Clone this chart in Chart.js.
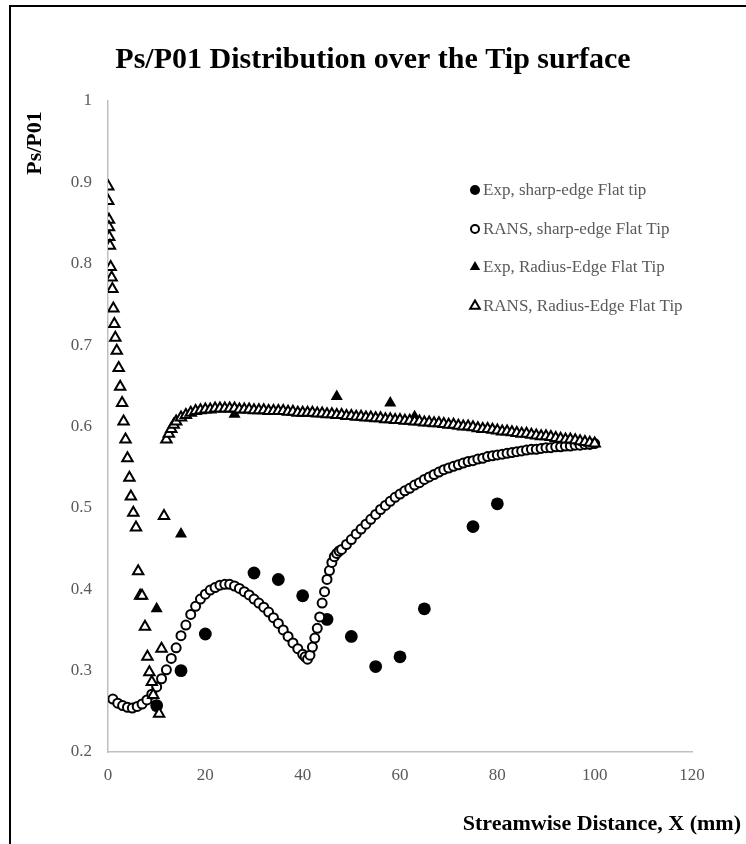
<!DOCTYPE html>
<html>
<head>
<meta charset="utf-8">
<script src="https://cdn.jsdelivr.net/npm/chart.js@4.4.1/dist/chart.umd.min.js"></script>
<style>
  html, body { margin: 0; padding: 0; background: #ffffff; }
  canvas { display: block; }
</style>
</head>
<body>
<canvas id="tipChart" width="746" height="844"></canvas>
<script>
// Axis ticks
const xTicks = [0, 20, 40, 60, 80, 100, 120];
const yTicks = [0.2, 0.3, 0.4, 0.5, 0.6, 0.7, 0.8, 0.9, 1];

// Series names
const seriesNames = [
  'Exp, sharp-edge Flat tip',
  'RANS, sharp-edge Flat Tip',
  'Exp, Radius-Edge Flat Tip',
  'RANS, Radius-Edge Flat Tip'
];

// Experiment, sharp-edge flat tip
const expSharpX = [10, 15, 20, 30, 35, 40, 45, 50, 55, 60, 65, 75, 80];
const expSharpY = [0.257, 0.300, 0.345, 0.420, 0.412, 0.392, 0.363, 0.342, 0.305, 0.317, 0.376, 0.477, 0.505];

// RANS, sharp-edge flat tip
const ransSharpX = [
  1, 2, 3, 4, 5, 6, 7, 8, 9, 10, 11, 12, 13, 14, 15, 16, 17, 18, 19, 20,
  21, 22, 23, 24, 25, 26, 27, 28, 29, 30, 31, 32, 33, 34, 35, 36, 37, 38, 39, 40,
  40.5, 41, 41.5, 42, 42.5, 43, 43.5, 44, 44.5, 45, 45.5, 46, 46.5, 47, 47.5,
  48, 49, 50, 51, 52, 53, 54, 55, 56, 57, 58, 59, 60, 61, 62, 63, 64, 65, 66, 67,
  68, 69, 70, 71, 72, 73, 74, 75, 76, 77, 78, 79, 80, 81, 82, 83, 84, 85, 86, 87,
  88, 89, 90, 91, 92, 93, 94, 95, 96, 97, 98, 99, 100
];
const ransSharpY = [
  0.265, 0.260, 0.257, 0.255, 0.254, 0.256, 0.259, 0.264, 0.271, 0.280,
  0.290, 0.301, 0.315, 0.328, 0.343, 0.356, 0.369, 0.379, 0.388, 0.394,
  0.399, 0.402, 0.405, 0.406, 0.406, 0.404, 0.401, 0.397, 0.393, 0.388,
  0.383, 0.378, 0.372, 0.365, 0.358, 0.350, 0.342, 0.334, 0.327, 0.320,
  0.317, 0.314, 0.319, 0.329, 0.340, 0.352, 0.366, 0.383, 0.397, 0.412,
  0.423, 0.433, 0.440, 0.444, 0.447,
  0.449, 0.455, 0.461, 0.468, 0.474, 0.480, 0.486, 0.492, 0.498, 0.503,
  0.508, 0.513, 0.517, 0.521, 0.524, 0.528, 0.531, 0.535, 0.538, 0.541,
  0.544, 0.547, 0.549, 0.551, 0.553, 0.555, 0.557, 0.558, 0.560, 0.561,
  0.563, 0.564, 0.565, 0.566, 0.567, 0.568, 0.569, 0.570, 0.571, 0.572,
  0.572, 0.573, 0.574, 0.574, 0.575, 0.575, 0.576, 0.576, 0.577, 0.577,
  0.578, 0.578, 0.579
];

// Experiment, radius-edge flat tip
const expRadiusX = [10, 15, 26, 47, 58, 63];
const expRadiusY = [0.376, 0.468, 0.615, 0.637, 0.629, 0.612];

// RANS, radius-edge flat tip
const ransRadiusX = [
  0.05, 0.05, 0.2, 0.2, 0.25, 0.4, 0.55, 0.75, 0.9, 1.1, 1.3, 1.5, 1.8, 2.2,
  2.5, 2.9, 3.2, 3.6, 4.0, 4.4, 4.7, 5.2, 5.75, 6.2, 6.6, 7.0, 7.6, 8.1, 8.5,
  9.0, 9.3, 10.5, 11.0, 11.5,
  12, 12.5, 13, 13.5, 14, 15, 16, 17, 18, 19, 20, 21, 22, 23, 24, 25, 26, 27,
  28, 29, 30, 31, 32, 33, 34, 35, 36, 37, 38, 39, 40, 41, 42, 43, 44, 45, 46,
  47, 48, 49, 50, 51, 52, 53, 54, 55, 56, 57, 58, 59, 60, 61, 62, 63, 64, 65,
  66, 67, 68, 69, 70, 71, 72, 73, 74, 75, 76, 77, 78, 79, 80, 81, 82, 83, 84,
  85, 86, 87, 88, 89, 90, 91, 92, 93, 94, 95, 96, 97, 98, 99, 100
];
const ransRadiusY = [
  0.895, 0.877, 0.854, 0.845, 0.833, 0.822, 0.796, 0.783, 0.769, 0.745,
  0.726, 0.709, 0.693, 0.672, 0.649, 0.629, 0.606, 0.584, 0.561, 0.537,
  0.514, 0.494, 0.476, 0.422, 0.392, 0.392, 0.354, 0.317, 0.298, 0.286,
  0.270, 0.247, 0.327, 0.490,
  0.584, 0.591, 0.597, 0.602, 0.606, 0.611, 0.614, 0.617, 0.619, 0.620,
  0.621, 0.621, 0.622, 0.622, 0.622, 0.622, 0.622, 0.621, 0.621, 0.621,
  0.620, 0.620, 0.620, 0.619, 0.619, 0.619, 0.619, 0.618, 0.618, 0.617,
  0.617, 0.617, 0.617, 0.616, 0.616, 0.615, 0.615, 0.614, 0.614, 0.613,
  0.613, 0.612, 0.612, 0.611, 0.611, 0.610, 0.610, 0.609, 0.609, 0.608,
  0.608, 0.607, 0.607, 0.606, 0.606, 0.605, 0.605, 0.604, 0.604, 0.603,
  0.602, 0.602, 0.601, 0.600, 0.600, 0.599, 0.598, 0.597, 0.597, 0.596,
  0.595, 0.594, 0.594, 0.593, 0.592, 0.591, 0.591, 0.590, 0.589, 0.588,
  0.588, 0.587, 0.586, 0.585, 0.584, 0.584, 0.583, 0.582, 0.581, 0.580,
  0.579
];

const toPoints = (xs, ys) => xs.map((x, i) => ({ x: x, y: ys[i] }));

const SERIF = '"Liberation Serif", "DejaVu Serif", serif';
const GREY_TEXT = '#595959';

// Legend marker look, one per series
const legendMarks = [
  { shape: 'circle', r: 5, fill: '#000000', line: 0 },
  { shape: 'circle', r: 4, fill: '#ffffff', line: 2 },
  { shape: 'triangle', r: 6, fill: '#000000', line: 0 },
  { shape: 'triangle', r: 5.6, fill: '#ffffff', line: 2 }
];

// Page furniture drawn straight onto the canvas: background, frame, titles, legend
const furniture = {
  id: 'furniture',
  beforeDraw(chart) {
    const ctx = chart.ctx;
    ctx.save();
    ctx.fillStyle = '#ffffff';
    ctx.fillRect(0, 0, chart.width, chart.height);
    ctx.restore();
  },
  afterDraw(chart) {
    const ctx = chart.ctx;
    ctx.save();

    // outer frame
    ctx.strokeStyle = '#000000';
    ctx.lineWidth = 2;
    ctx.beginPath();
    ctx.moveTo(10, chart.height);
    ctx.lineTo(10, 6);
    ctx.lineTo(chart.width, 6);
    ctx.stroke();

    // chart title
    ctx.fillStyle = '#000000';
    ctx.textAlign = 'center';
    ctx.textBaseline = 'middle';
    ctx.font = 'bold 30px ' + SERIF;
    ctx.fillText('Ps/P01 Distribution over the Tip surface', 373, 60);

    // x axis title
    ctx.font = 'bold 22px ' + SERIF;
    ctx.textAlign = 'right';
    ctx.fillText('Streamwise Distance, X (mm)', 741, 824);

    // y axis title
    ctx.save();
    ctx.translate(35, 143);
    ctx.rotate(-Math.PI / 2);
    ctx.textAlign = 'center';
    ctx.font = 'bold 22px ' + SERIF;
    ctx.fillText('Ps/P01', 0, 0);
    ctx.restore();

    // legend
    const rows = [190, 229, 267, 306];
    const mx = 475;
    ctx.font = '17px ' + SERIF;
    ctx.textAlign = 'left';
    ctx.textBaseline = 'middle';
    chart.data.datasets.forEach((ds, i) => {
      const y = rows[i];
      const m = legendMarks[i];
      ctx.fillStyle = m.fill;
      ctx.strokeStyle = '#000000';
      ctx.lineWidth = m.line;
      ctx.beginPath();
      if (m.shape === 'circle') {
        ctx.arc(mx, y, m.r, 0, Math.PI * 2);
      } else {
        ctx.moveTo(mx, y - m.r);
        ctx.lineTo(mx + m.r * 0.866, y + m.r * 0.5);
        ctx.lineTo(mx - m.r * 0.866, y + m.r * 0.5);
        ctx.closePath();
      }
      ctx.fill();
      if (m.line > 0) ctx.stroke();
      ctx.fillStyle = GREY_TEXT;
      ctx.fillText(ds.label, 483, y + 1);
    });

    ctx.restore();
  }
};

new Chart(document.getElementById('tipChart'), {
  type: 'scatter',
  data: {
    datasets: [
      {
        label: seriesNames[0],
        data: toPoints(expSharpX, expSharpY),
        pointStyle: 'circle',
        pointRadius: 6.4,
        pointBorderWidth: 0,
        backgroundColor: '#000000',
        borderColor: '#000000',
        order: 4
      },
      {
        label: seriesNames[1],
        data: toPoints(ransSharpX, ransSharpY),
        pointStyle: 'circle',
        pointRadius: 4.5,
        pointBorderWidth: 2,
        backgroundColor: '#ffffff',
        borderColor: '#000000',
        order: 3
      },
      {
        label: seriesNames[2],
        data: toPoints(expRadiusX, expRadiusY),
        pointStyle: 'triangle',
        pointRadius: 7,
        pointBorderWidth: 0,
        backgroundColor: '#000000',
        borderColor: '#000000',
        order: 2
      },
      {
        label: seriesNames[3],
        data: toPoints(ransRadiusX, ransRadiusY),
        pointStyle: 'triangle',
        pointRadius: 6,
        pointBorderWidth: 2,
        backgroundColor: '#ffffff',
        borderColor: '#000000',
        order: 1
      }
    ]
  },
  options: {
    responsive: false,
    devicePixelRatio: 1,
    animation: false,
    layout: { padding: { left: 0, top: 101, right: 54, bottom: 52 } },
    plugins: {
      legend: { display: false },
      title: { display: false },
      tooltip: { enabled: false }
    },
    scales: {
      x: {
        type: 'linear',
        min: xTicks[0],
        max: xTicks[xTicks.length - 1],
        afterBuildTicks(scale) { scale.ticks = xTicks.map(v => ({ value: v })); },
        afterFit(scale) { scale.height = 40; },
        grid: { display: false, drawTicks: false },
        border: { display: true, color: '#bfbfbf', width: 1.5 },
        ticks: {
          padding: 13,
          color: GREY_TEXT,
          font: { family: SERIF, size: 17 },
          callback: v => String(v)
        }
      },
      y: {
        type: 'linear',
        min: yTicks[0],
        max: yTicks[yTicks.length - 1],
        afterBuildTicks(scale) { scale.ticks = yTicks.map(v => ({ value: v })); },
        afterFit(scale) { scale.width = 108; },
        grid: { display: false, drawTicks: false },
        border: { display: true, color: '#bfbfbf', width: 1.5 },
        ticks: {
          padding: 16,
          color: GREY_TEXT,
          font: { family: SERIF, size: 17 },
          callback: v => String(Math.round(v * 10) / 10)
        }
      }
    }
  },
  plugins: [furniture]
});
</script>
</body>
</html>
